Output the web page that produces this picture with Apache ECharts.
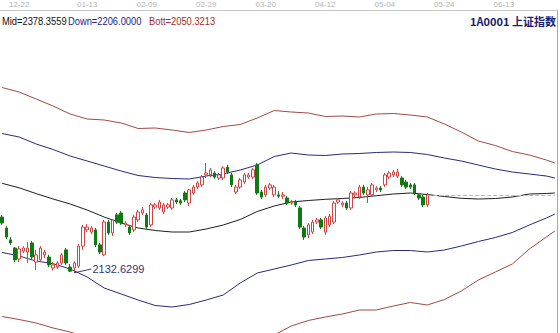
<!DOCTYPE html>
<html><head><meta charset="utf-8">
<script src="https://cdn.jsdelivr.net/npm/echarts@6/dist/echarts.min.js"></script>
<style>html,body{margin:0;padding:0;background:#fff}#c{width:560px;height:333px}</style>
</head><body><div id="c"></div>
<script>
// ---- data ----
const barCount = 131;
const tickLabels = ['12-22','01-13','02-09','02-29','03-20','04-12','05-04','05-24','06-13'];
const tickPos = [4,20,34,48,62,76,90,104,118];

// [open, close, low, high]
const candles = [
[2311,2292,2286,2318],[2276,2247,2241,2282],[2238,2228,2222,2247],[2212,2174,2167,2215],
[2177,2209,2167,2218],[2202,2212,2196,2218],[2199,2212,2164,2231],[2228,2183,2177,2234],
[2167,2190,2142,2206],[2174,2212,2167,2218],[2190,2199,2180,2206],[2183,2158,2151,2190],
[2148,2158,2140,2167],[2151,2164,2145,2170],[2164,2190,2158,2196],[2206,2164,2158,2212],
[2151,2138,2135,2161],[2148,2164,2132.63,2170],[2154,2218,2148,2225],[2218,2279,2206,2286],
[2270,2279,2263,2289],[2263,2276,2257,2282],[2270,2222,2215,2276],[2222,2199,2193,2228],
[2190,2295,2186,2302],[2295,2260,2254,2302],[2260,2302,2250,2305],[2318,2295,2289,2324],
[2324,2292,2286,2330],[2286,2292,2279,2298],[2279,2260,2254,2286],[2270,2311,2263,2318],
[2302,2327,2295,2334],[2324,2334,2318,2343],[2318,2279,2273,2324],[2286,2350,2279,2356],
[2343,2350,2337,2356],[2340,2359,2334,2366],[2327,2350,2321,2356],[2343,2350,2337,2356],
[2340,2366,2334,2372],[2366,2359,2353,2372],[2363,2356,2350,2369],[2388,2366,2359,2394],
[2356,2398,2346,2401],[2388,2407,2382,2414],[2407,2420,2401,2426],[2414,2439,2407,2446],
[2446,2452,2436,2484],[2446,2462,2439,2468],[2452,2439,2433,2458],[2436,2446,2430,2452],
[2436,2468,2430,2474],[2471,2455,2449,2478],[2446,2414,2407,2452],[2391,2407,2385,2414],
[2407,2430,2401,2436],[2423,2446,2417,2452],[2439,2446,2433,2452],[2439,2462,2433,2468],
[2478,2388,2382,2484],[2391,2375,2369,2398],[2382,2407,2375,2414],[2404,2414,2398,2420],
[2382,2407,2375,2414],[2382,2378,2372,2394],[2378,2382,2369,2391],[2372,2356,2350,2378],
[2356,2359,2350,2366],[2359,2350,2343,2366],[2340,2279,2273,2346],[2276,2247,2238,2282],
[2254,2286,2244,2292],[2263,2295,2257,2302],[2295,2302,2289,2308],[2302,2279,2273,2308],
[2263,2308,2254,2314],[2286,2314,2279,2321],[2295,2356,2289,2362],[2359,2366,2353,2372],
[2350,2356,2343,2362],[2356,2340,2334,2362],[2340,2388,2334,2394],[2382,2388,2375,2394],
[2375,2407,2369,2414],[2407,2388,2382,2414],[2382,2398,2356,2407],[2382,2414,2375,2420],
[2398,2404,2391,2410],[2404,2398,2391,2410],[2414,2446,2407,2452],[2439,2452,2433,2458],
[2446,2455,2439,2462],[2442,2455,2436,2465],[2436,2414,2407,2442],[2423,2407,2401,2430],
[2414,2407,2401,2420],[2414,2388,2382,2420],[2382,2372,2366,2388],[2375,2350,2343,2382],
[2350,2382,2343,2388]
];

// band lines, sampled at these bar indices
const lineIdx = [0,4,8,12,16,20,24,28,32,36,40,44,48,52,56,60,64,68,72,76,80,84,88,92,96,100,104,108,112,116,120,124,128,130];
const upperRed = [2725.6,2711.2,2688.8,2666.4,2640.8,2624.8,2621.6,2612,2594.4,2596,2589.6,2581.6,2589.6,2600.8,2607.2,2628,2652,2647.2,2644,2632.8,2634.4,2631.2,2640.8,2642.4,2637.6,2631.2,2608.8,2583.2,2554.4,2540,2520.8,2509.6,2493.6,2484];
const upperBlue = [2578.4,2567.2,2544.8,2527.2,2506.4,2490.4,2474.4,2458.4,2444,2437.6,2434.4,2432.8,2442.4,2448.8,2461.6,2477.6,2504.8,2516,2509.6,2508,2512.8,2514.4,2517.6,2519.2,2517.6,2511.2,2500,2490.4,2477.6,2464.8,2455.2,2448.8,2442.4,2436];
const mid = [2419,2404.6,2386.1,2368.8,2352.8,2333.6,2311.2,2292,2276,2268,2263.2,2263.2,2272.8,2285.6,2303.2,2328.8,2346.4,2359.2,2364,2367.8,2370.4,2373.6,2379.4,2384.8,2388,2383.2,2376.8,2371,2368.8,2370.4,2375.2,2384.8,2386.4,2388];
const lowerBlue = [2197.9,2186.4,2170.4,2161.8,2144.8,2119.2,2084,2064.8,2045.6,2028,2023.2,2031.2,2045.6,2061.6,2100,2132,2144.8,2157.6,2172,2176.8,2181.6,2189.6,2199.2,2204,2204,2199.2,2205.6,2218.4,2232.8,2245.6,2261.6,2285.6,2308,2320.8];
const lowerRed = [1992.8,1983.2,1972,1956,1943.2,1924,1911.2,1901.6,1895.2,1892,1892,1895.2,1898.4,1904.8,1914.4,1924,1933.6,1962.4,1980,1991.2,2000.8,2013.6,2013.6,2026.4,2037.6,2029.6,2047.2,2074.4,2109.6,2135.2,2160.8,2208.8,2247.2,2266.4];

const lowIndex = 17, lowValue = 2132.6299;
const lastIndex = 100, lastClose = 2382;
const legendMid = 'Mid=2378.3559', legendDown = 'Down=2206.0000', legendBott = 'Bott=2050.3213';
const titleText = '1A0001 上证指数';

// ---- chart ----
const cats = Array.from({length: barCount}, (_, i) => String(i));
const labelMap = {}; tickPos.forEach((p, k) => labelMap[p] = tickLabels[k]);
const pairs = arr => lineIdx.map((x, k) => [x, arr[k]]);
const lineSeries = (name, arr, color) => ({
  name, type: 'line', data: pairs(arr), showSymbol: false, symbol: 'none',
  lineStyle: {color, width: 1}, z: 3, silent: true, animation: false
});
const legendFont = '11px "Liberation Sans", sans-serif';
const sx = 0.85;

const chart = echarts.init(document.getElementById('c'), null, {renderer: 'svg'});
chart.setOption({
  animation: false,
  backgroundColor: '#ffffff',
  grid: {left: 0, right: 3, top: 10, bottom: 0},
  xAxis: {
    type: 'category', data: cats, position: 'top', boundaryGap: true,
    axisLine: {lineStyle: {color: '#c4c4c4'}},
    axisTick: {show: false},
    axisLabel: {
      interval: (i) => labelMap[i] !== undefined,
      formatter: (v, i) => labelMap[i] || '',
      color: '#b4b4b4', fontSize: 8, margin: 2, fontFamily: 'Liberation Sans'
    },
    splitLine: {show: false}
  },
  yAxis: {
    type: 'value', min: 1940, max: 2973.6, position: 'right',
    axisLine: {show: true, lineStyle: {color: '#a8a8a8'}},
    axisTick: {show: false}, axisLabel: {show: false}, splitLine: {show: false}
  },
  series: [
    lineSeries('upperRed', upperRed, '#a04a44'),
    lineSeries('upperBlue', upperBlue, '#2a2a78'),
    lineSeries('mid', mid, '#1e1e1e'),
    lineSeries('lowerBlue', lowerBlue, '#2a2a78'),
    lineSeries('lowerRed', lowerRed, '#a04a44'),
    {
      type: 'candlestick', data: candles, barWidth: 3, z: 4,
      itemStyle: {color: '#ffffff', color0: '#0f7a12', borderColor: '#d04444', borderColor0: '#0f7a12', borderWidth: 1},
      markLine: {
        silent: true, symbol: 'none', animation: false,
        data: [
          [{coord: [lastIndex, lastClose], lineStyle: {type: [4, 2], color: '#b8b8b8', width: 1}, label: {show: false}},
           {coord: [barCount - 1, lastClose]}],
          [{coord: [lowIndex, lowValue], lineStyle: {type: 'solid', color: '#3a3a7a', width: 1},
            label: {show: true, position: 'end', formatter: '2132.6299', color: '#34347a', fontSize: 11, fontFamily: 'Liberation Sans', distance: 1}},
           {coord: [lowIndex + 4, 2145]}]
        ]
      }
    }
  ],
  graphic: [
    {type: 'text', x: 2, y: 16, scaleX: sx, z: 10, style: {text: legendMid, fill: '#111111', font: legendFont, textVerticalAlign: 'top'}},
    {type: 'text', x: 68, y: 16, scaleX: sx, z: 10, style: {text: legendDown, fill: '#1e1e86', font: legendFont, textVerticalAlign: 'top', width: 92, overflow: 'truncate', ellipsis: ''}},
    {type: 'text', x: 149, y: 16, scaleX: sx, z: 12, style: {text: legendBott, fill: '#a42c2c', font: legendFont, textVerticalAlign: 'top'}},
    {type: 'text', right: 4, top: 15, z: 10, style: {text: titleText, fill: '#1c1c6e', font: 'bold 11px "Noto Sans CJK SC"'}}
  ]
});
</script>
</body></html>
